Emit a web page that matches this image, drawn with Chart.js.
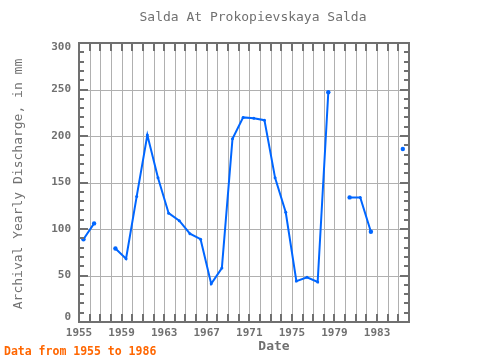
<!DOCTYPE html>
<html>
<head>
<meta charset="utf-8">
<script src="https://cdn.jsdelivr.net/npm/chart.js@4"></script>
<style>
html,body{margin:0;padding:0;background:#fff;}
#wrap{width:480px;height:360px;position:relative;}
</style>
</head>
<body>
<div id="wrap"><canvas id="c" width="480" height="360"></canvas></div>
<script>
// ---- data ----
const years = [1955,1956,1957,1958,1959,1960,1961,1962,1963,1964,1965,1966,1967,1968,1969,1970,1971,1972,1973,1974,1975,1976,1977,1978,1979,1980,1981,1982,1983,1984,1985];
const discharge = [89,106,null,79,68,135,201,155,117,109,95,89,41,58,197,220,219,217,155,118,44,48,43,247,null,134,134,97,null,null,186];
const yTicks = [0,50,100,150,200,250,300];
const xTickLabels = [1955,1959,1963,1967,1971,1975,1979,1983];
const titleText = "Salda At Prokopievskaya Salda";
const xTitle = "Date";
const yTitle = "Archival Yearly Discharge, in mm";
const noteText = "Data from 1955 to 1986";

const points = years.map((y,i)=>({x:y+0.42, y:discharge[i]}));

const AXIS = '#707070', GRID = '#b0b0b0';
const MONO = '"DejaVu Sans Mono", "Liberation Mono", monospace';

const deco = {
  id:'deco',
  beforeDatasetsDraw(chart){
    const ctx = chart.ctx, a = chart.chartArea;
    const xs = chart.scales.x, ys = chart.scales.y;
    ctx.save();
    ctx.strokeStyle = GRID; ctx.lineWidth = 1;
    for(let yr=1956; yr<=1985; yr++){
      const px = Math.round(xs.getPixelForValue(yr))+0.5;
      ctx.beginPath(); ctx.moveTo(px,a.top); ctx.lineTo(px,a.bottom); ctx.stroke();
    }
    yTicks.forEach(v=>{
      if(v===0||v===300) return;
      const py = Math.round(ys.getPixelForValue(v))+0.5;
      ctx.beginPath(); ctx.moveTo(a.left,py); ctx.lineTo(a.right,py); ctx.stroke();
    });
    ctx.restore();
  },
  afterDraw(chart){
    const ctx = chart.ctx, a = chart.chartArea;
    const xs = chart.scales.x, ys = chart.scales.y;
    ctx.save();
    ctx.strokeStyle = AXIS; ctx.lineWidth = 2;
    for(let yr=1956; yr<=1985; yr++){
      const px = Math.round(xs.getPixelForValue(yr));
      ctx.beginPath(); ctx.moveTo(px,a.bottom); ctx.lineTo(px,a.bottom-8); ctx.stroke();
      ctx.beginPath(); ctx.moveTo(px,a.top); ctx.lineTo(px,a.top+8); ctx.stroke();
    }
    for(let v=10; v<300; v+=10){
      const py = Math.round(ys.getPixelForValue(v));
      const len = (v%50===0)?9:5;
      ctx.beginPath(); ctx.moveTo(a.left,py); ctx.lineTo(a.left+len,py); ctx.stroke();
      ctx.beginPath(); ctx.moveTo(a.right,py); ctx.lineTo(a.right-len,py); ctx.stroke();
    }
    ctx.strokeRect(a.left, a.top, a.right-a.left, a.bottom-a.top);
    ctx.fillStyle = AXIS;
    ctx.font = 'bold 11px '+MONO;
    ctx.textAlign='right'; ctx.textBaseline='middle';
    yTicks.forEach(v=>{
      let py = ys.getPixelForValue(v);
      py = Math.min(Math.max(py, a.top+4), a.bottom-5);
      ctx.fillText(String(v), a.left-8, py);
    });
    ctx.textAlign='center';
    ctx.font = '13px '+MONO;
    ctx.fillText(titleText, 253, 18);
    ctx.font = 'bold 13px '+MONO;
    ctx.fillText(xTitle, 274, 347);
    ctx.save();
    ctx.translate(19,184); ctx.rotate(-Math.PI/2);
    ctx.font = '13px '+MONO;
    ctx.fillText(yTitle, 0, 0);
    ctx.restore();
    ctx.fillStyle = '#ff6600';
    ctx.textAlign='left';
    ctx.font = 'bold 11.5px '+MONO;
    ctx.fillText(noteText, 4, 352);
    ctx.restore();
  }
};

function endRadius(c){
  const i = c.dataIndex;
  const prev = i>0 ? discharge[i-1] : null;
  const next = i<discharge.length-1 ? discharge[i+1] : null;
  return (prev===null || next===null) ? 2.2 : 1.5;
}

new Chart(document.getElementById('c'), {
  type:'line',
  data:{datasets:[{
    data:points,
    borderColor:'#0066ff',
    backgroundColor:'#0066ff',
    borderWidth:2,
    pointRadius:endRadius,
    pointBorderWidth:0,
    pointHoverRadius:endRadius,
    spanGaps:false,
    tension:0,
    fill:false
  }]},
  options:{
    responsive:false,
    animation:false,
    devicePixelRatio:1,
    layout:{padding:{left:0,top:43,right:71,bottom:0}},
    plugins:{legend:{display:false},title:{display:false},tooltip:{enabled:false}},
    scales:{
      x:{
        type:'linear', min:1955, max:1986,
        grid:{display:false, drawTicks:false},
        border:{display:false},
        afterFit(s){ s.height = 38; },
        afterBuildTicks(s){ s.ticks = xTickLabels.map(v=>({value:v})); },
        ticks:{
          autoSkip:false, maxRotation:0, padding:5,
          color:AXIS, font:{family:MONO, size:11, weight:'bold'},
          callback:(v)=>String(v)
        }
      },
      y:{
        type:'linear', min:0, max:300,
        grid:{display:false, drawTicks:false},
        border:{display:false},
        afterFit(s){ s.width = 79; },
        afterBuildTicks(s){ s.ticks = yTicks.map(v=>({value:v})); },
        ticks:{ display:false }
      }
    }
  },
  plugins:[deco]
});
</script>
</body>
</html>
